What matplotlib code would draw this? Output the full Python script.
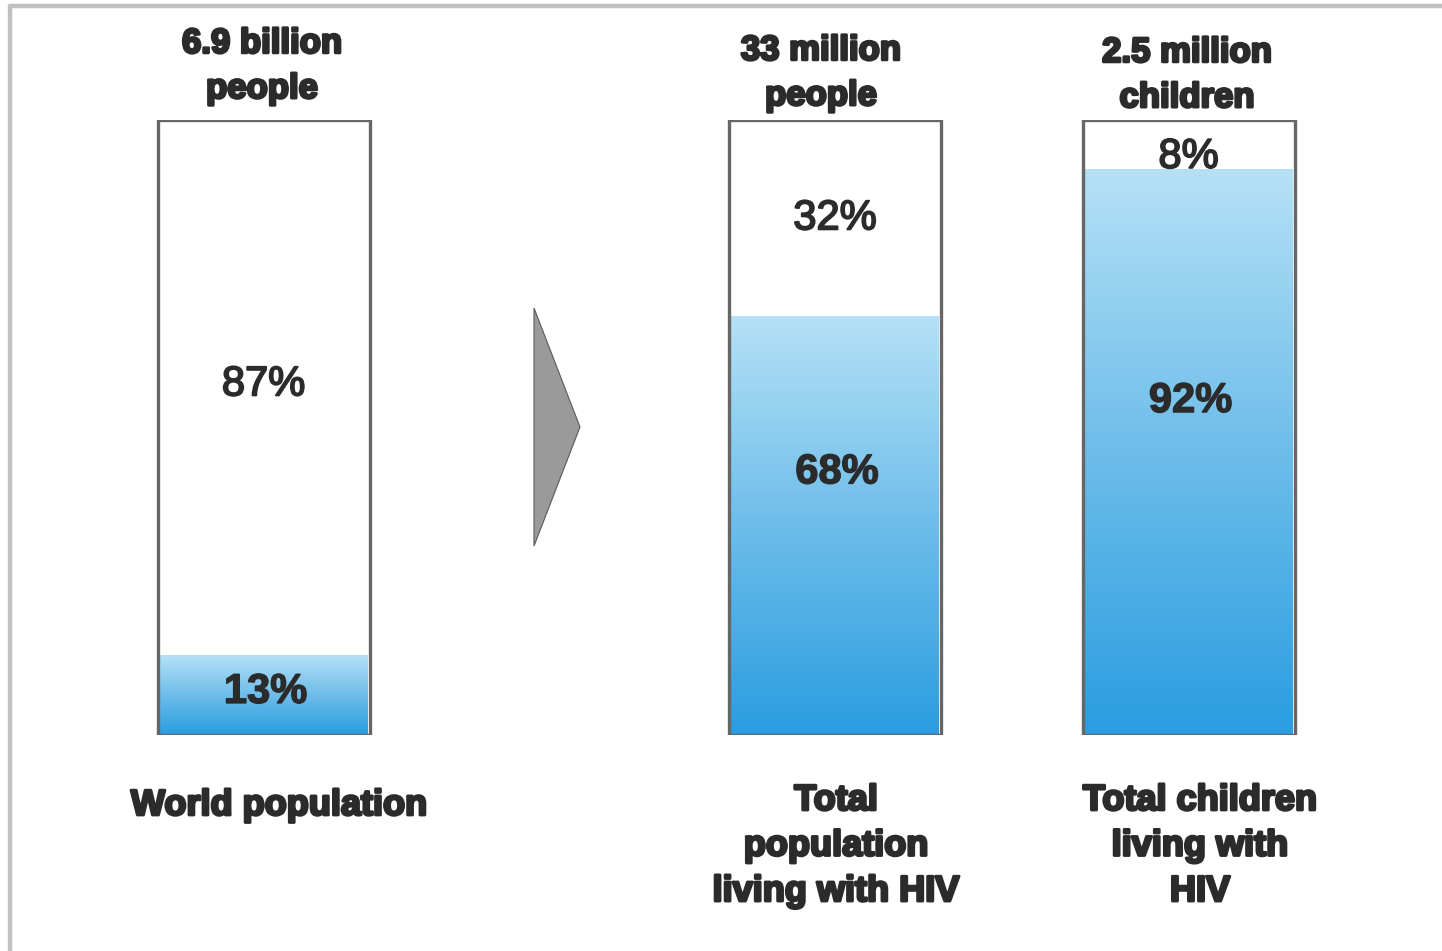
import numpy as np
import matplotlib
matplotlib.use("Agg")
import matplotlib.pyplot as plt
from matplotlib.colors import LinearSegmentedColormap
from matplotlib.patches import Polygon, Rectangle
import matplotlib.patheffects as pe

plt.rcParams['font.family'] = ['Liberation Sans', 'DejaVu Sans']

# Data
categories = ["World population",
              "Total\npopulation\nliving with HIV",
              "Total children\nliving with\nHIV"]
totals = ["6.9 billion\npeople", "33 million\npeople", "2.5 million\nchildren"]
share_filled = [13, 68, 92]          # blue part (%)
share_empty = [87, 32, 8]            # white part (%)

TEXT = "#2b2b2b"
EDGE = "#666666"
cmap = LinearSegmentedColormap.from_list("blue", ["#2a9de0", "#6dbdea", "#b5e1f6"])

W, H = 1442, 951
fig = plt.figure(figsize=(W / 100, H / 100), dpi=100)

# background frame
bg = fig.add_axes([0, 0, 1, 1])
bg.set_xlim(0, W)
bg.set_ylim(H, 0)
bg.axis("off")
bg.plot([10, 10, W], [H, 6, 6], color="#c0c0c0", lw=3.2, solid_capstyle="butt")

# arrow between the world bar and the HIV bars
bg.add_patch(Polygon([[534, 308], [580, 427], [534, 546]], closed=True,
                     facecolor="#9a9a9a", edgecolor="#5a5a5a", lw=0.8))

# bar axes: y in percent
ax = fig.add_axes([0, (H - 735) / H, 1, (735 - 120) / H])
ax.set_xlim(0, W)
ax.set_ylim(0, 100)
ax.axis("off")

centers = [263.5, 835, 1188.5]
bw = 212

grad = np.linspace(0, 1, 256).reshape(-1, 1)
for i, (c, v) in enumerate(zip(centers, share_filled)):
    x0 = c - bw / 2
    ax.imshow(grad, cmap=cmap, origin="lower", aspect="auto",
              extent=[x0 + 2, x0 + bw - 2, 0, v], zorder=1)
    ax.add_patch(Rectangle((x0, 0), bw, 100, facecolor="none",
                           edgecolor=EDGE, lw=2.4, zorder=3))

stroke_bold = [pe.withStroke(linewidth=2.0, foreground=TEXT)]
stroke_mid = [pe.withStroke(linewidth=1.0, foreground=TEXT)]
stroke_thin = [pe.withStroke(linewidth=1.3, foreground=TEXT)]

# percentage labels
filled_label_y = [7.0, 42.7, 54.3]
empty_label_y = [57.0, 84.0, 94.0]
for c, v, e, fy, ey in zip(centers, share_filled, share_empty,
                           filled_label_y, empty_label_y):
    ax.text(c + 2, fy, f"{v}%", ha="center", va="center", fontsize=30,
            fontweight="bold", color=TEXT, path_effects=stroke_mid, zorder=4)
    ax.text(c, ey, f"{e}%", ha="center", va="center", fontsize=30,
            color=TEXT, path_effects=stroke_thin, zorder=4)

# totals above bars
title_x = [262, 821, 1187]
title_y = [66, 73, 75]
for x, y, t in zip(title_x, title_y, totals):
    bg.text(x, y, t, ha="center", va="center", fontsize=25, fontweight="bold",
            color=TEXT, linespacing=1.47, path_effects=stroke_bold)

# category labels below bars
cat_x = [279, 836, 1200]
cat_y = [788, 783, 783]
for x, y, t in zip(cat_x, cat_y, categories):
    bg.text(x, y, t, ha="center", va="top", fontsize=26, fontweight="bold",
            color=TEXT, linespacing=1.39, path_effects=stroke_bold)

fig.savefig("out.png", dpi=100)
